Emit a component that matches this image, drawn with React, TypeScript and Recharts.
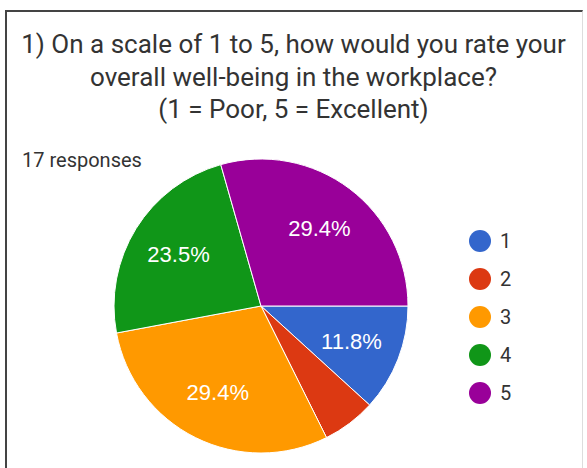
import { PieChart, Pie, Cell, Legend } from "recharts"

const ratings = ["1", "2", "3", "4", "5"]
const counts = [2, 1, 5, 4, 5]
const colors = ["#3366cc", "#dc3912", "#ff9900", "#109618", "#990099"]
const titleLines = [
  "1) On a scale of 1 to 5, how would you rate your",
  "overall well-being in the workplace?",
  "(1 = Poor, 5 = Excellent)",
]
const responsesLabel = "17 responses"

const data = ratings.map((r, i) => ({ name: r, value: counts[i] }))

const RAD = Math.PI / 180

const renderLabel = (props: any) => {
  const { cx, cy, midAngle, outerRadius, percent } = props
  if (percent < 0.1) return null
  const r = outerRadius * 0.66
  const x = cx + r * Math.cos(-midAngle * RAD)
  const y = cy + r * Math.sin(-midAngle * RAD)
  return (
    <text
      x={x}
      y={y}
      fill="#ffffff"
      textAnchor="middle"
      dominantBaseline="central"
      fontSize={22}
      fontFamily="Arial, 'Liberation Sans', sans-serif"
    >
      {(percent * 100).toFixed(1)}%
    </text>
  )
}

const renderLegend = (props: any) => {
  const { payload } = props
  return (
    <div>
      {(payload ?? []).map((p: any, i: number) => (
        <div
          key={`leg-${i}`}
          style={{ display: "flex", alignItems: "center", height: 37.9 }}
        >
          <span
            style={{
              width: 22,
              height: 22,
              borderRadius: "50%",
              background: p.color,
              display: "inline-block",
              marginRight: 9,
            }}
          />
          <span style={{ fontSize: 20, color: "#333", fontFamily: "Roboto, Arial, sans-serif" }}>
            {p.value}
          </span>
        </div>
      ))}
    </div>
  )
}

export default function App() {
  return (
    <div
      style={{
        position: "absolute",
        left: 0,
        top: 0,
        width: 587,
        height: 468,
        background: "#ffffff",
        overflow: "hidden",
        fontFamily: "Roboto, Arial, sans-serif",
      }}
    >
      <div
        style={{
          position: "absolute",
          left: 5,
          top: 10,
          width: 575,
          height: 470,
          borderTop: "2px solid #444",
          borderLeft: "2px solid #444",
          borderRight: "1px solid #ddd",
        }}
      />
      <div
        style={{
          position: "absolute",
          left: 7,
          top: 28,
          width: 573,
          textAlign: "center",
          fontSize: 26,
          lineHeight: "32.5px",
          color: "#333",
        }}
      >
        {titleLines.map((t, i) => (
          <div key={`t-${i}`}>{t}</div>
        ))}
      </div>
      <div
        style={{
          position: "absolute",
          left: 22,
          top: 148,
          fontSize: 20,
          color: "#333",
        }}
      >
        {responsesLabel}
      </div>
      <div style={{ position: "absolute", left: 0, top: 0 }}>
        <PieChart width={587} height={468}>
          <Pie
            data={data}
            dataKey="value"
            nameKey="name"
            cx={256}
            cy={301}
            outerRadius={147}
            startAngle={0}
            endAngle={-360}
            stroke="#ffffff"
            strokeWidth={1}
            label={renderLabel}
            labelLine={false}
            isAnimationActive={false}
          >
            {data.map((d, i) => (
              <Cell key={`c-${d.name}`} fill={colors[i]} />
            ))}
          </Pie>
          <Legend
            layout="vertical"
            content={renderLegend}
            wrapperStyle={{ left: 469, top: 222, width: 80 }}
          />
        </PieChart>
      </div>
    </div>
  )
}
